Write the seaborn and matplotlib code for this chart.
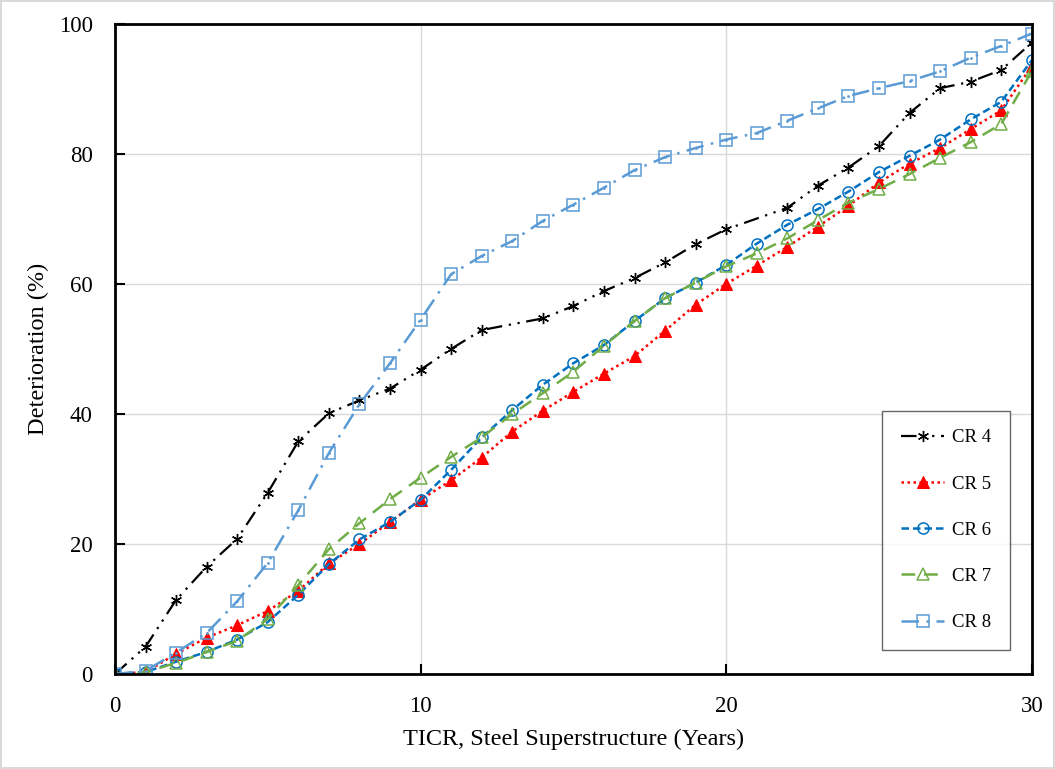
import numpy as np
import pandas as pd
import matplotlib
matplotlib.use("Agg")
import matplotlib.pyplot as plt
import seaborn as sns

years_all = list(range(0, 31))
years_cr4 = [0, 1, 2, 3, 4, 5, 6, 7, 8, 9, 10, 11, 12, 14, 15, 16, 17, 18, 19, 20,
             22, 23, 24, 25, 26, 27, 28, 29, 30]
cr4 = [0, 4.2, 11.4, 16.5, 20.8, 27.9, 35.8, 40.1, 42.1, 43.9, 46.8, 50.0, 52.9,
       54.7, 56.6, 58.9, 60.9, 63.3, 66.1, 68.4, 71.7, 75.1, 77.9, 81.2, 86.3,
       90.1, 91.1, 92.9, 97.1]
cr5 = [0, 0.3, 3.1, 5.6, 7.5, 9.7, 12.8, 17.0, 20.0, 23.4, 26.8, 29.8, 33.3, 37.3,
       40.5, 43.4, 46.2, 48.9, 52.8, 56.8, 60.0, 62.8, 65.7, 68.8, 72.0, 75.6,
       78.5, 80.9, 83.8, 86.7, 93.5]
cr6 = [0, 0.3, 1.9, 3.4, 5.3, 8.0, 12.2, 16.9, 20.7, 23.4, 26.8, 31.4, 36.4, 40.6,
       44.5, 47.8, 50.6, 54.3, 57.8, 60.2, 62.9, 66.2, 69.1, 71.5, 74.2, 77.2,
       79.7, 82.2, 85.3, 88.0, 94.4]
cr7 = [0, 0.3, 1.7, 3.4, 5.1, 8.5, 13.7, 19.2, 23.2, 26.9, 30.2, 33.4, 36.4, 40.0,
       43.2, 46.5, 50.5, 54.3, 57.8, 60.2, 62.7, 64.7, 67.0, 69.8, 72.5, 74.6,
       76.9, 79.4, 81.8, 84.6, 92.7]
cr8 = [0, 0.5, 3.3, 6.3, 11.2, 17.1, 25.2, 34.0, 41.5, 47.8, 54.5, 61.5, 64.3, 66.6,
       69.7, 72.2, 74.8, 77.5, 79.5, 80.9, 82.2, 83.2, 85.1, 87.0, 88.9, 90.1,
       91.2, 92.7, 94.8, 96.6, 98.5]

series_names = ["CR 4", "CR 5", "CR 6", "CR 7", "CR 8"]

sns.set_theme(style="white")
plt.rcParams["font.family"] = ["Liberation Serif", "DejaVu Serif"]
plt.rcParams["text.color"] = "black"
plt.rcParams["axes.labelcolor"] = "black"

fig = plt.figure(figsize=(10.55, 7.69), dpi=100)
fig.patch.set_edgecolor("#d9d9d9")
fig.patch.set_linewidth(1.5)
ax = fig.add_axes([0.109, 0.1235, 0.869, 0.8455])

styles = [
    dict(color="black", linestyle=(0, (7, 3, 1, 3, 1, 3)), marker=(6, 2, 0),
         markersize=8, markeredgewidth=1.0, markerfacecolor="black", markeredgecolor="black", linewidth=1.6),
    dict(color="#ff0000", linestyle=(0, (1, 1.4)), marker="^", markersize=8,
         markerfacecolor="#ff0000", markeredgecolor="#ff0000", linewidth=1.8),
    dict(color="#0070c0", linestyle=(0, (3, 1.6)), marker="o", markersize=8,
         markerfacecolor="none", markeredgecolor="#0070c0", markeredgewidth=1.1, linewidth=1.8),
    dict(color="#70ad47", linestyle=(0, (5.5, 3.5)), marker="^", markersize=8.5,
         markerfacecolor="none", markeredgecolor="#70ad47", markeredgewidth=1.1, linewidth=1.8),
    dict(color="#5b9bd5", linestyle=(0, (7, 3, 1, 3)), marker="s", markersize=8,
         markerfacecolor="none", markeredgecolor="#5b9bd5", markeredgewidth=1.1, linewidth=1.8),
]
xs = [years_cr4, years_all, years_all, years_all, years_all]
ys = [cr4, cr5, cr6, cr7, cr8]

for name, x, y, st in zip(series_names, xs, ys, styles):
    df = pd.DataFrame({"year": x, "det": y})
    sns.lineplot(data=df, x="year", y="det", ax=ax, label=name, **st)

# small centre dots in the CR 8 squares
ax.plot(years_all, cr8, linestyle="none", marker=".", markersize=2, color="#5b9bd5")

ax.set_xlim(0, 30)
ax.set_ylim(0, 100)
ax.set_xticks([0, 10, 20, 30])
ax.set_yticks([0, 20, 40, 60, 80, 100])
ax.grid(True, color="#d9d9d9", linewidth=1.0)
ax.set_axisbelow(True)
for s in ax.spines.values():
    s.set_visible(True)
    s.set_color("black")
    s.set_linewidth(2.0)
ax.tick_params(axis="both", direction="in", length=7, width=1.5, labelsize=16.5,
               colors="black", labelcolor="black", bottom=True, left=True)
ax.tick_params(axis="y", pad=16)
ax.tick_params(axis="x", pad=16)
ax.set_xlabel("TICR, Steel Superstructure (Years)", fontsize=17.5, labelpad=8,
              color="black")
ax.set_ylabel("Deterioration (%)", fontsize=17.5, labelpad=7, color="black")

leg = ax.legend(loc="lower left", bbox_to_anchor=(0.837, 0.037), frameon=True,
                fancybox=False, edgecolor="#404040", fontsize=13.5,
                labelspacing=1.55, handlelength=2.3, handletextpad=0.4,
                borderpad=1.0, borderaxespad=0)
leg.get_frame().set_linewidth(1.0)
for t in leg.get_texts():
    t.set_color("black")

fig.savefig("out.png", dpi=100, edgecolor=fig.get_edgecolor())
